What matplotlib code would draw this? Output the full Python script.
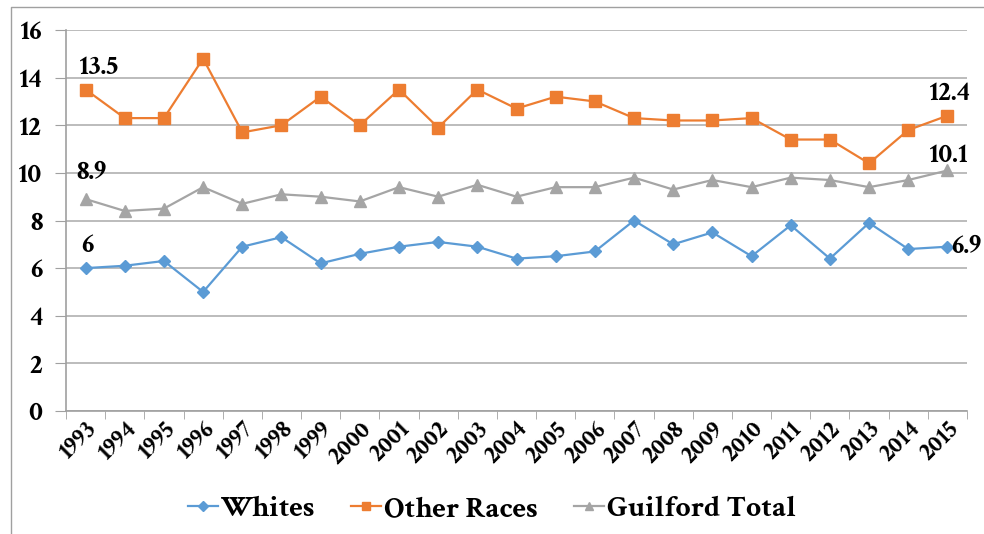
import matplotlib.pyplot as plt
from matplotlib.lines import Line2D

years = [str(y) for y in range(1993, 2016)]
whites = [6.0, 6.1, 6.3, 5.0, 6.9, 7.3, 6.2, 6.6, 6.9, 7.1, 6.9, 6.4,
          6.5, 6.7, 8.0, 7.0, 7.5, 6.5, 7.8, 6.4, 7.9, 6.8, 6.9]
other_races = [13.5, 12.3, 12.3, 14.8, 11.7, 12.0, 13.2, 12.0, 13.5, 11.9, 13.5, 12.7,
               13.2, 13.0, 12.3, 12.2, 12.2, 12.3, 11.4, 11.4, 10.4, 11.8, 12.4]
guilford = [8.9, 8.4, 8.5, 9.4, 8.7, 9.1, 9.0, 8.8, 9.4, 9.0, 9.5, 9.0,
            9.4, 9.4, 9.8, 9.3, 9.7, 9.4, 9.8, 9.7, 9.4, 9.7, 10.1]

FONT = ['Crimson Text', 'Liberation Serif', 'DejaVu Serif']
plt.rcParams['font.family'] = FONT
plt.rcParams['font.weight'] = 'bold'

W, H = 984, 534
fig = plt.figure(figsize=(W / 100, H / 100), dpi=100)
ax = fig.add_axes([66 / W, (H - 411) / H, 901 / W, 381 / H])

x = list(range(len(years)))
blue, orange, grey = '#5B9BD5', '#ED7D31', '#A5A5A5'

ax.plot(x, whites, color=blue, lw=1.6, marker='D', ms=6, label='Whites')
ax.plot(x, other_races, color=orange, lw=1.6, marker='s', ms=8, label='Other Races')
ax.plot(x, guilford, color=grey, lw=1.6, marker='^', ms=8, label='Guilford Total')

ax.set_xlim(-0.5, len(years) - 0.5)
ax.set_ylim(0, 16)
ax.set_yticks(range(0, 17, 2))
ax.yaxis.grid(True, color='#b0b0b0', lw=1.2)
ax.set_axisbelow(True)

ax.set_xticks(x)
ax.set_xticklabels(years, rotation=45, ha='right', va='top',
                   rotation_mode='anchor', fontsize=18, fontweight='bold')
ax.tick_params(axis='x', which='major', length=0, pad=5)
ax.set_xticks([i - 0.5 for i in range(len(years) + 1)], minor=True)
ax.tick_params(axis='x', which='minor', length=6, color='#a0a0a0', direction='out')
ax.tick_params(axis='y', length=8, color='#a0a0a0', labelsize=20, pad=9)
for lab in ax.get_yticklabels():
    lab.set_fontweight('bold')

for s in ['top', 'right']:
    ax.spines[s].set_visible(False)
for s in ['left', 'bottom']:
    ax.spines[s].set_color('#a0a0a0')
    ax.spines[s].set_linewidth(1.2)

# end-point labels
lab_kw = dict(textcoords='offset pixels', fontsize=20, fontweight='bold', color='black')
ax.annotate('13.5', (0, other_races[0]), xytext=(14, 22), ha='center', va='center', **lab_kw)
ax.annotate('8.9', (0, guilford[0]), xytext=(6, 26), ha='center', va='center', **lab_kw)
ax.annotate('6', (0, whites[0]), xytext=(2, 22), ha='center', va='center', **lab_kw)
ax.annotate('12.4', (22, other_races[-1]), xytext=(2, 22), ha='center', va='center', **lab_kw)
ax.annotate('10.1', (22, guilford[-1]), xytext=(2, 15), ha='center', va='center', **lab_kw)
ax.annotate('6.9', (22, whites[-1]), xytext=(4, 0), ha='left', va='center',
            annotation_clip=False, **lab_kw)

fig.legend(loc='center', bbox_to_anchor=(0.5, (H - 509) / H), ncol=3, frameon=False,
           prop={'family': FONT, 'weight': 'bold', 'size': 21.5},
           handlelength=1.0, handletextpad=0.1, columnspacing=1.2, markerscale=0.8)

# outer chart border
fig.add_artist(Line2D([11 / W, 11 / W, 1], [0, 1 - 7 / H, 1 - 7 / H],
                      transform=fig.transFigure, color='#a0a0a0', lw=1.0))

plt.savefig('out.png', dpi=100)
